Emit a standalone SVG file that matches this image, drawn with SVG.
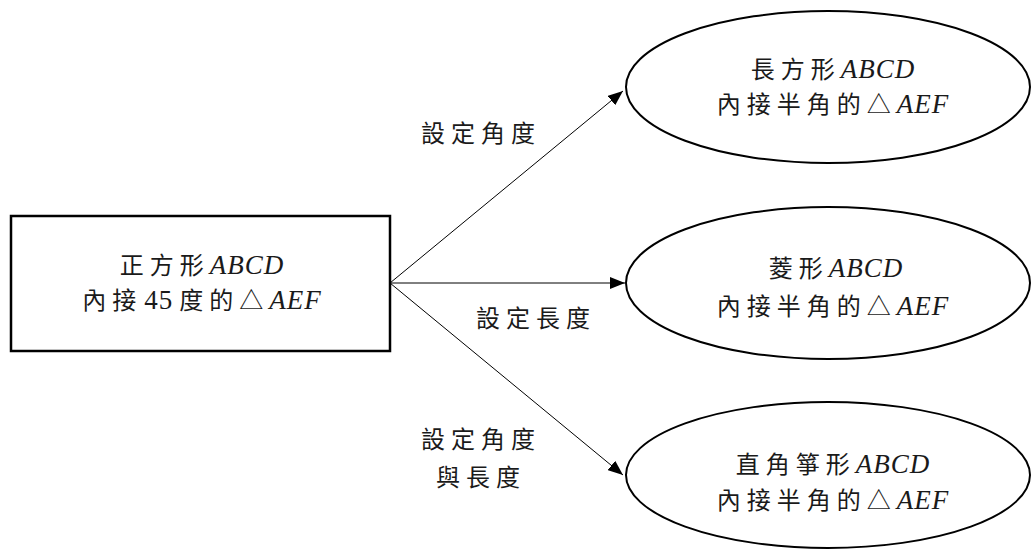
<svg xmlns="http://www.w3.org/2000/svg" width="1032" height="550" viewBox="0 0 1032 550">
<defs>
<style>
.box{fill:#fff;stroke:#000;stroke-width:2.5}
.ell{fill:#fff;stroke:#000;stroke-width:2}
.t{font-family:"Noto Sans CJK TC","Noto Sans CJK SC",sans-serif;font-size:24px;fill:#1a1a1a;letter-spacing:6px;text-anchor:middle}
.m{font-family:"Liberation Serif",serif;font-style:italic;font-size:27px;letter-spacing:1px}
.n{font-family:"Liberation Serif",serif;font-size:27px;letter-spacing:1px}
.c{stroke:#000;stroke-width:1;fill:none;marker-end:url(#ah)}
</style>
<marker id="ah" markerUnits="userSpaceOnUse" markerWidth="16" markerHeight="12" refX="15" refY="6" orient="auto">
<path d="M0,0 L15,6 L0,12 z" fill="#000"/>
</marker>
</defs>
<g id="connectors">
<line class="c" x1="390" y1="283" x2="623" y2="91"/>
<line class="c" x1="390" y1="283" x2="625" y2="283"/>
<line class="c" x1="390" y1="283" x2="623" y2="475"/>
<text class="t" x="481" y="142">設定角度</text>
<text class="t" x="536" y="327">設定長度</text>
<text class="t" x="481" y="448">設定角度</text>
<text class="t" x="481" y="486">與長度</text>
</g>
<g id="n-square">
<rect class="box" x="11" y="216" width="379" height="135"/>
<text class="t" x="202" y="274">正方形<tspan class="m">ABCD</tspan></text>
<text class="t" x="202" y="309">內接<tspan class="n" dx="2">45</tspan><tspan dx="6">度的△</tspan><tspan class="m">AEF</tspan></text>
</g>
<g id="n-rect">
<ellipse class="ell" cx="828" cy="87" rx="202" ry="76"/>
<text class="t" x="833" y="78">長方形<tspan class="m">ABCD</tspan></text>
<text class="t" x="833" y="113">內接半角的△<tspan class="m">AEF</tspan></text>
</g>
<g id="n-rhombus">
<ellipse class="ell" cx="828" cy="283" rx="202" ry="76"/>
<text class="t" x="836" y="277">菱形<tspan class="m">ABCD</tspan></text>
<text class="t" x="833" y="315">內接半角的△<tspan class="m">AEF</tspan></text>
</g>
<g id="n-kite">
<ellipse class="ell" cx="828" cy="475" rx="202" ry="73"/>
<text class="t" x="833" y="473">直角箏形<tspan class="m">ABCD</tspan></text>
<text class="t" x="833" y="509">內接半角的△<tspan class="m">AEF</tspan></text>
</g>
</svg>
